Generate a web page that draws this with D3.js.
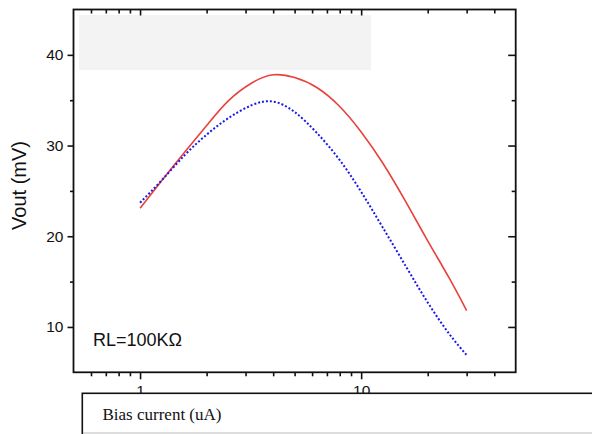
<!DOCTYPE html>
<html>
<head>
<meta charset="utf-8">
<script src="https://cdn.jsdelivr.net/npm/d3@7"></script>
<style>
  html, body { margin: 0; padding: 0; background: #fff; }
  svg { display: block; }
</style>
</head>
<body>
<svg id="chart" width="592" height="434"></svg>
<script>
// ---- data ----
const biasCurrent = [1, 1.25, 1.6, 2, 2.5, 3.2, 4, 5, 6.3, 8, 10, 12.5, 16, 20, 25, 30];
const voutRed     = [23.1, 26.1, 29.35, 32.2, 34.9, 36.9, 37.8, 37.5, 36.4, 34.3, 31.5, 28.1, 23.7, 19.5, 15.4, 11.8];
const voutBlue    = [23.7, 26.15, 29.0, 31.2, 33.0, 34.45, 34.85, 33.7, 31.4, 28.4, 24.9, 21.0, 16.6, 12.7, 9.25, 6.9];
const xMajorTicks = [1, 10];
const xMinorTicks = [0.6, 0.7, 0.8, 0.9, 2, 3, 4, 5, 6, 7, 8, 9, 20, 30, 40];
const yMajorTicks = [10, 20, 30, 40];
const yMinorTicks = [15, 25, 35];
const xDomain = [0.5, 50];
const yDomain = [5, 45];
const yLabel = "Vout (mV)";
const xLabel = "Bias current (uA)";
const annotation = "RL=100KΩ";

// ---- layout ----
const L = 73.5, R = 515.7, T = 9.5, B = 372.3;
const svg = d3.select("#chart");

const x = d3.scaleLog().domain(xDomain).range([L, R]);
const y = d3.scaleLinear().domain(yDomain).range([B, T]);

const font = "'Liberation Sans', Arial, sans-serif";

// legend-like gray box
svg.append("rect")
  .attr("x", 79).attr("y", 15).attr("width", 292).attr("height", 55)
  .attr("fill", "#f3f3f3");

function styleAxis(g) {
  g.select(".domain").remove();
  g.selectAll(".tick line").attr("stroke", "#111").attr("stroke-width", 1.6);
  g.selectAll(".tick text").attr("fill", "#111").style("font-family", font).style("font-size", "15.5px");
}

// bottom major / minor (outward)
svg.append("g").attr("transform", `translate(0,${B})`)
  .call(d3.axisBottom(x).tickValues(xMajorTicks).tickFormat(d3.format("d")).tickSize(7).tickPadding(6))
  .call(styleAxis);
svg.append("g").attr("transform", `translate(0,${B})`)
  .call(d3.axisBottom(x).tickValues(xMinorTicks).tickFormat("").tickSize(4))
  .call(styleAxis);
// top major / minor (inward)
svg.append("g").attr("transform", `translate(0,${T})`)
  .call(d3.axisBottom(x).tickValues(xMajorTicks).tickFormat("").tickSize(6))
  .call(styleAxis);
svg.append("g").attr("transform", `translate(0,${T})`)
  .call(d3.axisBottom(x).tickValues(xMinorTicks).tickFormat("").tickSize(4))
  .call(styleAxis);
// left major / minor (outward)
svg.append("g").attr("transform", `translate(${L},0)`)
  .call(d3.axisLeft(y).tickValues(yMajorTicks).tickFormat(d3.format("d")).tickSize(6).tickPadding(4))
  .call(styleAxis);
svg.append("g").attr("transform", `translate(${L},0)`)
  .call(d3.axisLeft(y).tickValues(yMinorTicks).tickFormat("").tickSize(3.5))
  .call(styleAxis);
// right major / minor (inward)
svg.append("g").attr("transform", `translate(${R},0)`)
  .call(d3.axisLeft(y).tickValues(yMajorTicks).tickFormat("").tickSize(7.5))
  .call(styleAxis);
svg.append("g").attr("transform", `translate(${R},0)`)
  .call(d3.axisLeft(y).tickValues(yMinorTicks).tickFormat("").tickSize(4))
  .call(styleAxis);

// frame
svg.append("rect")
  .attr("x", L).attr("y", T).attr("width", R - L).attr("height", B - T)
  .attr("fill", "none").attr("stroke", "#111").attr("stroke-width", 1.8);

// lines
const line = d3.line().curve(d3.curveNatural)
  .x(d => x(d[0])).y(d => y(d[1]));

svg.append("path")
  .datum(biasCurrent.map((b, i) => [b, voutRed[i]]))
  .attr("d", line).attr("fill", "none")
  .attr("stroke", "#e8413c").attr("stroke-width", 1.6);

svg.append("path")
  .datum(biasCurrent.map((b, i) => [b, voutBlue[i]]))
  .attr("d", line).attr("fill", "none")
  .attr("stroke", "#1a1ae6").attr("stroke-width", 2)
  .attr("stroke-dasharray", "2,2");

// annotation
svg.append("text")
  .attr("x", 93).attr("y", 345.5)
  .style("font-family", font).style("font-size", "18px").attr("fill", "#111")
  .text(annotation);

// y label
svg.append("text")
  .attr("transform", "translate(25.5,185.5) rotate(-90)")
  .attr("text-anchor", "middle")
  .style("font-family", font).style("font-size", "20px").attr("fill", "#111")
  .text(yLabel);

// x label box (covers lower part of tick labels)
svg.append("rect")
  .attr("x", 82.3).attr("y", 393.3).attr("width", 520).attr("height", 60)
  .attr("fill", "#fff").attr("stroke", "#111").attr("stroke-width", 1.6);
svg.append("line")
  .attr("x1", 83).attr("x2", 592).attr("y1", 433).attr("y2", 433)
  .attr("stroke", "#bbb").attr("stroke-width", 1);

svg.append("text")
  .attr("x", 102.5).attr("y", 419.5)
  .style("font-family", "'Liberation Serif', 'Times New Roman', serif").style("font-size", "17px").attr("fill", "#111")
  .text(xLabel);
</script>
</body>
</html>
